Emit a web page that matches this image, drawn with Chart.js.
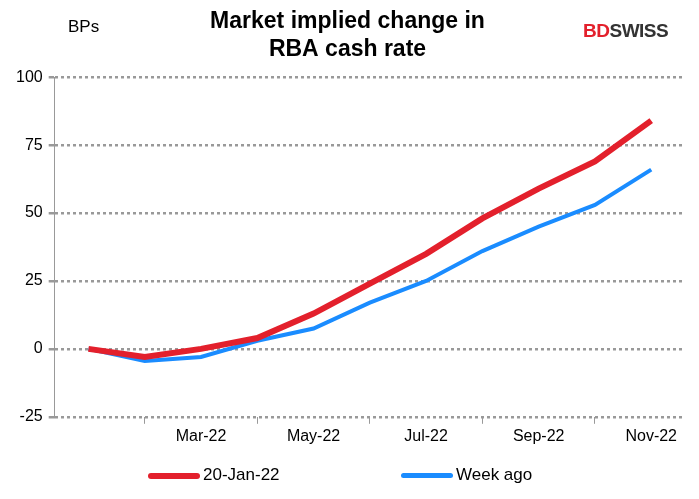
<!DOCTYPE html>
<html><head><meta charset="utf-8">
<script src="https://cdn.jsdelivr.net/npm/chart.js@4"></script>
<style>
body{margin:0;background:#fff;font-family:Arial,"Liberation Sans",sans-serif}
#wrap{position:relative;width:699px;height:499px}
#bps{position:absolute;left:68px;top:17px;font-size:17px;color:#000}
#logo{position:absolute;left:583px;top:20px;font-size:19px;font-weight:bold;letter-spacing:-0.5px}
.lg{position:absolute;top:465px;font-size:17px;color:#000}
.lg i{display:inline-block;width:52px;height:6px;vertical-align:middle;margin-right:3px;border-radius:3px}
</style></head><body>
<div id="wrap">
<canvas id="c" width="699" height="499"></canvas>
<div id="bps">BPs</div>
<div id="logo"><span style="color:#e3202c">BD</span><span style="color:#333">SWISS</span></div>
<div class="lg" style="left:148px"><i style="background:#e3202c"></i>20-Jan-22</div>
<div class="lg" style="left:401px"><i style="background:#1a8cff;height:5px"></i>Week ago</div>
</div>
<script>
// one point per RBA meeting, index 0 = today
const pointIndex = [0, 1, 2, 3, 4, 5, 6, 7, 8, 9, 10];
const latest = [0, -3, 0, 4, 13, 24, 35, 48, 59, 69, 84];
const weekAgo = [0, -4.5, -3, 3, 7.5, 17, 25, 36, 45, 53, 66];
const monthLabels = { 2: 'Mar-22', 4: 'May-22', 6: 'Jul-22', 8: 'Sep-22', 10: 'Nov-22' };
const yTicks = [-25, 0, 25, 50, 75, 100];

new Chart(document.getElementById('c'), {
  type: 'line',
  data: {
    datasets: [
      { label: '20-Jan-22', data: pointIndex.map((x, i) => ({ x, y: latest[i] })),
        borderColor: '#e3202c', borderWidth: 6, pointRadius: 0, tension: 0 },
      { label: 'Week ago', data: pointIndex.map((x, i) => ({ x, y: weekAgo[i] })),
        borderColor: '#1a8cff', borderWidth: 4, pointRadius: 0, tension: 0 }
    ]
  },
  options: {
    responsive: false,
    animation: false,
    layout: { padding: { left: 10, right: 14, top: 8, bottom: 50 } },
    plugins: {
      title: { display: true, text: ['Market implied change in', 'RBA cash rate'],
        color: '#000', font: { size: 23, weight: 'bold', family: 'Arial' },
        padding: { top: 0, bottom: 14 }, lineHeight: 1.15 },
      legend: { display: false },
      tooltip: { enabled: false }
    },
    scales: {
      x: { type: 'linear', min: -0.6, max: 10.6,
        afterBuildTicks: s => { s.ticks = [1,2,3,4,5,6,7,8,9,10].map(v => ({ value: v })); },
        ticks: { autoSkip: false, maxRotation: 0, color: '#000', font: { size: 16, family: 'Arial' },
          callback: v => monthLabels[v] || '' },
        grid: { display: true, drawOnChartArea: false, tickLength: 7,
          tickColor: ctx => (ctx.tick && ctx.tick.value % 2 === 1) ? '#999' : 'rgba(0,0,0,0)' },
        border: { display: false } },
      y: { min: -25, max: 100,
        afterBuildTicks: s => { s.ticks = yTicks.map(v => ({ value: v })); },
        ticks: { color: '#000', font: { size: 16, family: 'Arial' }, padding: 6 },
        grid: { color: '#999', lineWidth: 2.5, tickLength: 6 },
        border: { color: '#999', dash: [3, 3], width: 1 } }
    }
  }
});
</script>
</body></html>
